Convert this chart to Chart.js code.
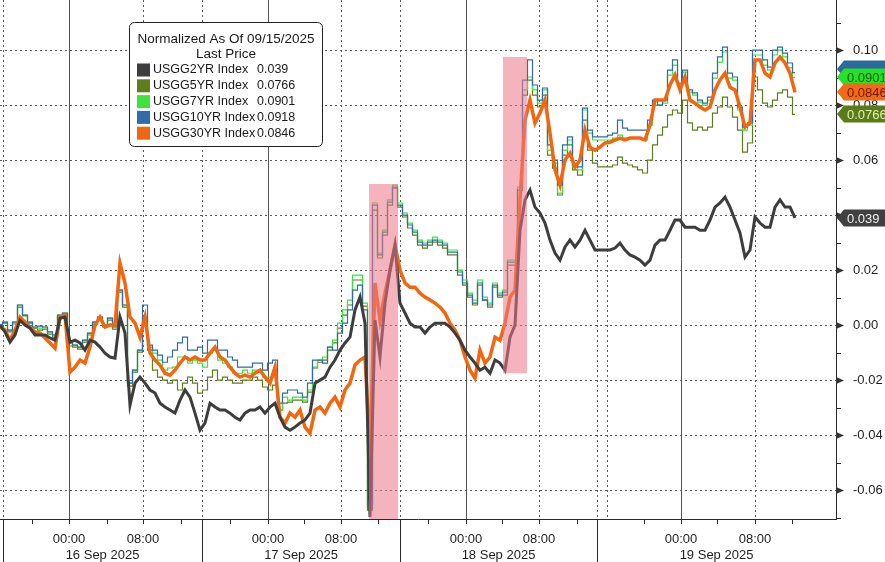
<!DOCTYPE html>
<html>
<head>
<meta charset="utf-8">
<title>US Treasury yields, normalized</title>
<script src="https://cdn.jsdelivr.net/npm/chart.js@4.4.1/dist/chart.umd.min.js"></script>
<style>
    html, body { margin: 0; padding: 0; background: #fff; }
    #wrap { width: 885px; height: 562px; }
</style>
</head>
<body>
<div id="wrap"><canvas id="yieldChart" width="885" height="562"></canvas></div>
<script>
// Normalized change since 09/15/2025, one sample per slot along the session axis

const usgg2yr = [
    0.0000, -0.0025, -0.0062, -0.0036, 0.0018, 0.0000, -0.0011, -0.0036, -0.0036, -0.0036,
    -0.0047, -0.0055, 0.0025, 0.0029, -0.0062, -0.0055, -0.0065, -0.0091, -0.0055, -0.0062,
    -0.0080, -0.0102, -0.0116, -0.0120, 0.0029, -0.0029, -0.0291, -0.0211, -0.0189, -0.0211,
    -0.0236, -0.0247, -0.0284, -0.0298, -0.0309, -0.0320, -0.0273, -0.0236, -0.0262, -0.0320,
    -0.0382, -0.0356, -0.0284, -0.0298, -0.0309, -0.0309, -0.0320, -0.0335, -0.0345, -0.0320,
    -0.0309, -0.0309, -0.0298, -0.0320, -0.0298, -0.0284, -0.0335, -0.0371, -0.0382, -0.0371,
    -0.0356, -0.0345, -0.0320, -0.0211, -0.0200, -0.0189, -0.0153, -0.0127, -0.0091, -0.0065,
    -0.0044, 0.0055, 0.0102, 0.0007, -0.0698, 0.0018, -0.0116, 0.0080, 0.0200, 0.0291,
    0.0080, 0.0044, 0.0007, -0.0007, -0.0007, -0.0029, -0.0007, 0.0007, 0.0007, 0.0007,
    -0.0007, -0.0029, -0.0055, -0.0091, -0.0116, -0.0138, -0.0164, -0.0153, -0.0175, -0.0127,
    -0.0138, -0.0164, -0.0044, 0.0000, 0.0345, 0.0455, 0.0491, 0.0429, 0.0407, 0.0371,
    0.0309, 0.0262, 0.0236, 0.0284, 0.0309, 0.0284, 0.0309, 0.0345, 0.0309, 0.0273,
    0.0273, 0.0273, 0.0273, 0.0280, 0.0298, 0.0273, 0.0255, 0.0247, 0.0236, 0.0218,
    0.0236, 0.0291, 0.0309, 0.0309, 0.0345, 0.0382, 0.0382, 0.0356, 0.0356, 0.0356,
    0.0345, 0.0345, 0.0382, 0.0429, 0.0444, 0.0465, 0.0429, 0.0382, 0.0335, 0.0247,
    0.0273, 0.0393, 0.0371, 0.0356, 0.0356, 0.0429, 0.0455, 0.0429, 0.0429, 0.0390
];

const usgg5yr = [
    0.0000, 0.0007, -0.0025, 0.0004, 0.0065, 0.0033, 0.0007, -0.0011, -0.0018, -0.0015,
    -0.0033, -0.0044, 0.0033, 0.0040, -0.0076, -0.0080, -0.0087, -0.0062, -0.0036, 0.0004,
    0.0022, -0.0007, 0.0018, -0.0015, 0.0120, 0.0065, -0.0222, -0.0171, -0.0098, 0.0018,
    -0.0091, -0.0164, -0.0189, -0.0200, -0.0211, -0.0200, -0.0236, -0.0211, -0.0189, -0.0211,
    -0.0247, -0.0236, -0.0189, -0.0164, -0.0200, -0.0189, -0.0200, -0.0211, -0.0211, -0.0200,
    -0.0200, -0.0189, -0.0200, -0.0225, -0.0236, -0.0218, -0.0309, -0.0284, -0.0280, -0.0273,
    -0.0273, -0.0280, -0.0244, -0.0156, -0.0135, -0.0127, -0.0091, -0.0065, -0.0011, 0.0036,
    0.0073, 0.0164, 0.0164, 0.0069, -0.0673, 0.0418, 0.0244, 0.0327, 0.0436, 0.0498,
    0.0429, 0.0393, 0.0353, 0.0327, 0.0291, 0.0280, 0.0291, 0.0302, 0.0291, 0.0280,
    0.0255, 0.0255, 0.0182, 0.0145, 0.0102, 0.0073, 0.0145, 0.0091, 0.0065, 0.0138,
    0.0102, 0.0109, 0.0218, 0.0218, 0.0491, 0.0836, 0.0891, 0.0836, 0.0793, 0.0836,
    0.0618, 0.0571, 0.0473, 0.0618, 0.0655, 0.0564, 0.0545, 0.0745, 0.0636, 0.0589,
    0.0575, 0.0575, 0.0575, 0.0582, 0.0611, 0.0589, 0.0582, 0.0575, 0.0564, 0.0553,
    0.0600, 0.0655, 0.0691, 0.0720, 0.0764, 0.0782, 0.0771, 0.0818, 0.0735, 0.0709,
    0.0720, 0.0709, 0.0720, 0.0771, 0.0793, 0.0829, 0.0793, 0.0756, 0.0709, 0.0629,
    0.0662, 0.0902, 0.0855, 0.0807, 0.0793, 0.0818, 0.0844, 0.0855, 0.0829, 0.0766
];

const usgg7yr = [
    0.0000, 0.0011, -0.0018, 0.0011, 0.0073, 0.0036, 0.0011, -0.0007, -0.0011, -0.0007,
    -0.0025, -0.0036, 0.0036, 0.0044, -0.0065, -0.0073, -0.0080, -0.0055, -0.0029, 0.0011,
    0.0029, 0.0000, 0.0025, -0.0007, 0.0127, 0.0073, -0.0211, -0.0164, -0.0091, 0.0029,
    -0.0080, -0.0102, -0.0127, -0.0164, -0.0156, -0.0153, -0.0116, -0.0116, -0.0138, -0.0127,
    -0.0138, -0.0153, -0.0102, -0.0091, -0.0127, -0.0138, -0.0153, -0.0175, -0.0175, -0.0164,
    -0.0175, -0.0164, -0.0164, -0.0189, -0.0189, -0.0189, -0.0309, -0.0262, -0.0273, -0.0262,
    -0.0262, -0.0273, -0.0236, -0.0153, -0.0127, -0.0116, -0.0080, -0.0055, 0.0007, 0.0055,
    0.0091, 0.0182, 0.0182, 0.0080, -0.0655, 0.0444, 0.0262, 0.0345, 0.0455, 0.0509,
    0.0444, 0.0407, 0.0371, 0.0345, 0.0309, 0.0298, 0.0309, 0.0320, 0.0309, 0.0298,
    0.0273, 0.0273, 0.0200, 0.0164, 0.0116, 0.0091, 0.0164, 0.0102, 0.0080, 0.0153,
    0.0116, 0.0127, 0.0236, 0.0236, 0.0502, 0.0855, 0.0902, 0.0855, 0.0807, 0.0855,
    0.0636, 0.0589, 0.0480, 0.0636, 0.0673, 0.0575, 0.0564, 0.0782, 0.0698, 0.0673,
    0.0673, 0.0673, 0.0673, 0.0680, 0.0691, 0.0680, 0.0680, 0.0680, 0.0680, 0.0673,
    0.0727, 0.0800, 0.0800, 0.0807, 0.0909, 0.0945, 0.0873, 0.0920, 0.0847, 0.0836,
    0.0811, 0.0800, 0.0818, 0.0898, 0.0956, 0.0993, 0.0898, 0.0891, 0.0782, 0.0709,
    0.0727, 0.0982, 0.0982, 0.0945, 0.0927, 0.0982, 0.1000, 0.0975, 0.0935, 0.0901
];

const usgg10yr = [
    0.0000, 0.0011, -0.0018, 0.0011, 0.0073, 0.0036, 0.0011, -0.0007, -0.0004, -0.0007,
    -0.0025, -0.0036, 0.0036, 0.0044, -0.0065, -0.0073, -0.0080, -0.0055, -0.0029, 0.0011,
    0.0029, 0.0000, 0.0025, -0.0007, 0.0127, 0.0073, -0.0211, -0.0164, -0.0091, 0.0073,
    -0.0073, -0.0091, -0.0109, -0.0135, -0.0116, -0.0091, -0.0065, -0.0044, -0.0091, -0.0091,
    -0.0080, -0.0102, -0.0055, -0.0055, -0.0091, -0.0091, -0.0116, -0.0127, -0.0153, -0.0153,
    -0.0153, -0.0138, -0.0138, -0.0164, -0.0138, -0.0127, -0.0284, -0.0247, -0.0236, -0.0236,
    -0.0247, -0.0262, -0.0211, -0.0127, -0.0127, -0.0138, -0.0080, -0.0091, -0.0029, 0.0007,
    0.0055, 0.0127, 0.0145, 0.0055, -0.0665, 0.0436, 0.0255, 0.0338, 0.0447, 0.0502,
    0.0436, 0.0400, 0.0364, 0.0338, 0.0302, 0.0291, 0.0302, 0.0309, 0.0302, 0.0291,
    0.0265, 0.0265, 0.0193, 0.0153, 0.0109, 0.0080, 0.0153, 0.0091, 0.0073, 0.0145,
    0.0109, 0.0120, 0.0229, 0.0229, 0.0491, 0.0891, 0.0964, 0.0873, 0.0818, 0.0862,
    0.0655, 0.0600, 0.0509, 0.0655, 0.0684, 0.0582, 0.0575, 0.0789, 0.0709, 0.0684,
    0.0684, 0.0684, 0.0691, 0.0698, 0.0745, 0.0716, 0.0709, 0.0709, 0.0709, 0.0709,
    0.0745, 0.0818, 0.0800, 0.0818, 0.0927, 0.0964, 0.0880, 0.0927, 0.0855, 0.0844,
    0.0818, 0.0807, 0.0829, 0.0916, 0.0975, 0.1011, 0.0916, 0.0902, 0.0793, 0.0720,
    0.0735, 0.1000, 0.1000, 0.0964, 0.0938, 0.1000, 0.1011, 0.0989, 0.0953, 0.0918
];

const usgg30yr = [
    -0.0007, -0.0018, -0.0055, -0.0018, 0.0029, 0.0011, -0.0007, -0.0025, -0.0029, -0.0047,
    -0.0065, -0.0084, 0.0029, 0.0036, -0.0171, -0.0153, -0.0127, -0.0138, -0.0080, 0.0000,
    0.0029, -0.0007, 0.0000, 0.0000, 0.0225, 0.0153, 0.0029, 0.0007, -0.0044, 0.0029,
    -0.0102, -0.0127, -0.0145, -0.0175, -0.0182, -0.0164, -0.0138, -0.0116, -0.0127, -0.0116,
    -0.0127, -0.0127, -0.0102, -0.0080, -0.0116, -0.0127, -0.0153, -0.0175, -0.0189, -0.0182,
    -0.0189, -0.0175, -0.0164, -0.0189, -0.0211, -0.0153, -0.0335, -0.0356, -0.0320, -0.0335,
    -0.0309, -0.0371, -0.0393, -0.0309, -0.0298, -0.0320, -0.0284, -0.0262, -0.0298, -0.0236,
    -0.0211, -0.0145, -0.0127, -0.0116, -0.0465, 0.0153, 0.0018, 0.0116, 0.0200, 0.0291,
    0.0200, 0.0153, 0.0138, 0.0138, 0.0116, 0.0102, 0.0091, 0.0080, 0.0065, 0.0044,
    0.0007, -0.0018, -0.0055, -0.0116, -0.0164, -0.0193, -0.0091, -0.0138, -0.0116, -0.0044,
    -0.0055, 0.0007, 0.0102, 0.0127, 0.0455, 0.0745, 0.0818, 0.0735, 0.0771, 0.0818,
    0.0698, 0.0564, 0.0509, 0.0600, 0.0625, 0.0575, 0.0600, 0.0709, 0.0647, 0.0636,
    0.0647, 0.0662, 0.0665, 0.0673, 0.0680, 0.0673, 0.0680, 0.0680, 0.0680, 0.0673,
    0.0727, 0.0818, 0.0818, 0.0818, 0.0873, 0.0909, 0.0855, 0.0902, 0.0818, 0.0807,
    0.0793, 0.0782, 0.0793, 0.0855, 0.0891, 0.0916, 0.0865, 0.0855, 0.0793, 0.0720,
    0.0735, 0.0964, 0.0964, 0.0916, 0.0902, 0.0953, 0.0975, 0.0953, 0.0916, 0.0846
];

const seriesNames = ['USGG2YR Index', 'USGG5YR Index', 'USGG7YR Index', 'USGG10YR Index', 'USGG30YR Index'];
const lastPrices = ['0.039', '0.0766', '0.0901', '0.0918', '0.0846'];

// x axis, in sample slots
const axisEnd = 167.2;
const hourTicks = [6.4, 13.8, 21.4, 28.6, 36.2, 46, 53.6, 60.8, 68.2, 75.6,
                   85.6, 93.2, 100.4, 107.8, 115.4, 128.8, 136.2, 143.4, 151, 158.4];
const hourLabels = ['', '00:00', '', '08:00', '', '', '00:00', '', '08:00', '',
                    '', '00:00', '', '08:00', '', '', '00:00', '', '08:00', ''];
const dayBreaks = [0.6, 40.4, 80, 119.4, axisEnd];
const dayLabels = ['16 Sep 2025', '17 Sep 2025', '18 Sep 2025', '19 Sep 2025'];
const sessionGap = 121.4;

// y axis
const yMin = -0.0705;
const yMax = 0.1182;
const yTickValues = [-0.07, -0.06, -0.05, -0.04, -0.03, -0.02, -0.01, 0, 0.01, 0.02,
                     0.03, 0.04, 0.05, 0.06, 0.07, 0.08, 0.09, 0.10, 0.11];

// highlighted moves: [fromSlot, toSlot, low, high]
const highlights = [
    [73.8, 79.6, -0.0705, 0.0513],
    [100.6, 105.4, -0.0175, 0.0975]
];

const FONT = '"Liberation Sans", Arial, sans-serif';
const seriesColors = ['#3d3d3d', '#5e7d1c', '#3ee43e', '#2f6ca8', '#f2660f'];
const tagStyles = [
    { bg: '#404040', fg: '#eeeeee', shift: 0 },
    { bg: '#5b7a1c', fg: '#dff5a8', shift: 0 },
    { bg: '#27e027', fg: '#136013', shift: 0 },
    { bg: '#2c6a9e', fg: '#2c6a9e', shift: -4 },
    { bg: '#f06a18', fg: '#6e1600', shift: 0 }
];

function isMajor(v) {
    return Math.abs(Math.round(v * 100)) % 2 === 0;
}

function toPoints(values) {
    return values.map((v, i) => ({ x: i, y: v }));
}

function strokeLine(ctx, x1, y1, x2, y2) {
    ctx.beginPath();
    ctx.moveTo(x1, y1);
    ctx.lineTo(x2, y2);
    ctx.stroke();
}

const decorPlugin = {
    id: 'decor',
    beforeDatasetsDraw(chart) {
        const { ctx, chartArea: a, scales: { x, y } } = chart;
        ctx.save();
        ctx.lineWidth = 1;
        ctx.strokeStyle = '#5a5a5a';
        ctx.setLineDash([2, 3]);
        // horizontal dotted grid
        yTickValues.filter(isMajor).forEach(v => {
            const py = Math.round(y.getPixelForValue(v)) + 0.5;
            strokeLine(ctx, a.left, py, a.right, py);
        });
        // dotted verticals: 08:00, day breaks and the session gap
        const dotted = hourTicks.filter((t, i) => hourLabels[i] === '08:00')
            .concat(dayBreaks.slice(0, -1), [sessionGap]);
        dotted.forEach(t => {
            const px = Math.round(x.getPixelForValue(t)) + 0.5;
            strokeLine(ctx, px, a.top, px, a.bottom);
        });
        // solid verticals at midnight
        ctx.setLineDash([]);
        ctx.strokeStyle = '#555';
        hourTicks.filter((t, i) => hourLabels[i] === '00:00').forEach(t => {
            const px = Math.round(x.getPixelForValue(t)) + 0.5;
            strokeLine(ctx, px, a.top, px, a.bottom);
        });
        ctx.restore();
    },
    afterDatasetsDraw(chart) {
        const { ctx, scales: { x, y } } = chart;
        ctx.save();
        ctx.fillStyle = 'rgba(236, 118, 134, 0.55)';
        highlights.forEach(([x0, x1, lo, hi]) => {
            const left = x.getPixelForValue(x0);
            const right = x.getPixelForValue(x1);
            const top = y.getPixelForValue(hi);
            const bottom = y.getPixelForValue(lo);
            ctx.fillRect(left, top, right - left, bottom - top);
        });
        ctx.restore();
    },
    afterDraw(chart) {
        const { ctx, chartArea: a, scales: { x, y } } = chart;
        const W = chart.width, H = chart.height;
        ctx.save();

        // axis lines
        ctx.strokeStyle = '#2a2a2a';
        ctx.lineWidth = 1;
        strokeLine(ctx, a.right + 0.5, 0, a.right + 0.5, a.bottom + 1);
        strokeLine(ctx, 0, a.bottom + 0.5, a.right + 1, a.bottom + 0.5);

        // y tick markers
        ctx.fillStyle = '#333';
        yTickValues.forEach(v => {
            const py = Math.round(y.getPixelForValue(v)) + 0.5;
            if (py < a.top || py > a.bottom) return;
            if (isMajor(v)) {
                ctx.beginPath();
                ctx.moveTo(a.right, py - 3.5);
                ctx.lineTo(a.right + 8, py);
                ctx.lineTo(a.right, py + 3.5);
                ctx.closePath();
                ctx.fill();
            } else {
                strokeLine(ctx, a.right, py, a.right + 5, py);
            }
        });

        // day separators and labels under the axis
        ctx.strokeStyle = '#2a2a2a';
        dayBreaks.slice(0, -1).forEach(t => {
            const px = Math.round(x.getPixelForValue(t)) + 0.5;
            strokeLine(ctx, px, a.bottom, px, H);
        });
        ctx.fillStyle = '#1e1e1e';
        ctx.font = '13px ' + FONT;
        ctx.textAlign = 'center';
        ctx.textBaseline = 'middle';
        dayLabels.forEach((label, i) => {
            const mid = (x.getPixelForValue(dayBreaks[i]) + x.getPixelForValue(dayBreaks[i + 1])) / 2;
            ctx.fillText(label, mid, 555);
        });

        // legend box
        const bx = 129.5, by = 22.5, bw = 193, bh = 124, r = 5;
        ctx.beginPath();
        ctx.moveTo(bx + r, by);
        ctx.arcTo(bx + bw, by, bx + bw, by + bh, r);
        ctx.arcTo(bx + bw, by + bh, bx, by + bh, r);
        ctx.arcTo(bx, by + bh, bx, by, r);
        ctx.arcTo(bx, by, bx + bw, by, r);
        ctx.closePath();
        ctx.fillStyle = '#fff';
        ctx.fill();
        ctx.strokeStyle = '#222';
        ctx.stroke();

        ctx.fillStyle = '#1a1a1a';
        ctx.font = '13.5px ' + FONT;
        ctx.fillText('Normalized As Of 09/15/2025', bx + bw / 2, 39);
        ctx.fillText('Last Price', bx + bw / 2, 54);
        ctx.textAlign = 'left';
        ctx.font = '12.5px ' + FONT;
        seriesNames.forEach((name, i) => {
            const ry = 70 + i * 15.8;
            ctx.fillStyle = seriesColors[i];
            ctx.fillRect(137, ry - 6.5, 13, 13);
            ctx.fillStyle = '#1a1a1a';
            ctx.fillText(name, 153, ry);
            ctx.fillText(lastPrices[i], 257, ry);
        });

        // last value tags on the right, drawn back to front
        const tagOrder = [3, 2, 4, 1, 0];
        const th = 17;
        ctx.font = '13px ' + FONT;
        tagOrder.forEach(i => {
            const series = chart.data.datasets[i].data;
            const cy = Math.round(y.getPixelForValue(series[series.length - 1].y)) + tagStyles[i].shift;
            ctx.beginPath();
            ctx.moveTo(a.right + 1, cy);
            ctx.lineTo(a.right + 8, cy - th / 2);
            ctx.lineTo(W, cy - th / 2);
            ctx.lineTo(W, cy + th / 2);
            ctx.lineTo(a.right + 8, cy + th / 2);
            ctx.closePath();
            ctx.fillStyle = tagStyles[i].bg;
            ctx.fill();
            ctx.fillStyle = tagStyles[i].fg;
            ctx.fillText(lastPrices[i], a.right + 11, cy + 1);
        });

        ctx.restore();
    }
};

const seriesValues = [usgg2yr, usgg5yr, usgg7yr, usgg10yr, usgg30yr];
const lineWidths = [3, 1.2, 1.2, 1.2, 3.5];
const drawOrder = [0, 4, 3, 2, 1];
// thin curves step like the terminal plot; the heavy ones run straight
const steppedLines = [false, 'middle', 'middle', 'middle', false];

new Chart(document.getElementById('yieldChart'), {
    type: 'line',
    data: {
        datasets: seriesValues.map((values, i) => ({
            label: seriesNames[i],
            data: toPoints(values),
            borderColor: seriesColors[i],
            borderWidth: lineWidths[i],
            pointRadius: 0,
            tension: 0,
            stepped: steppedLines[i],
            order: drawOrder[i]
        }))
    },
    options: {
        responsive: false,
        animation: false,
        layout: { padding: 0 },
        plugins: {
            legend: { display: false },
            tooltip: { enabled: false }
        },
        scales: {
            x: {
                type: 'linear',
                min: 0,
                max: axisEnd,
                afterBuildTicks: s => { s.ticks = hourTicks.map(v => ({ value: v })); },
                afterFit: s => { s.height = 43; s.paddingLeft = 0; s.paddingRight = 0; },
                grid: { drawOnChartArea: false, drawTicks: true, tickLength: 5, tickColor: '#2a2a2a', tickWidth: 1 },
                border: { display: false },
                ticks: {
                    autoSkip: false,
                    maxRotation: 0,
                    padding: 8,
                    color: '#1e1e1e',
                    font: { family: FONT, size: 13 },
                    callback: (v, i) => hourLabels[i]
                }
            },
            y: {
                position: 'right',
                min: yMin,
                max: yMax,
                afterBuildTicks: s => { s.ticks = yTickValues.map(v => ({ value: v })); },
                afterFit: s => { s.width = 49; s.paddingTop = 0; s.paddingBottom = 0; },
                grid: { display: false },
                border: { display: false },
                ticks: {
                    padding: 9,
                    color: '#1e1e1e',
                    font: { family: FONT, size: 13 },
                    callback: v => isMajor(v) ? v.toFixed(2) : ''
                }
            }
        }
    },
    plugins: [decorPlugin]
});
</script>
</body>
</html>
